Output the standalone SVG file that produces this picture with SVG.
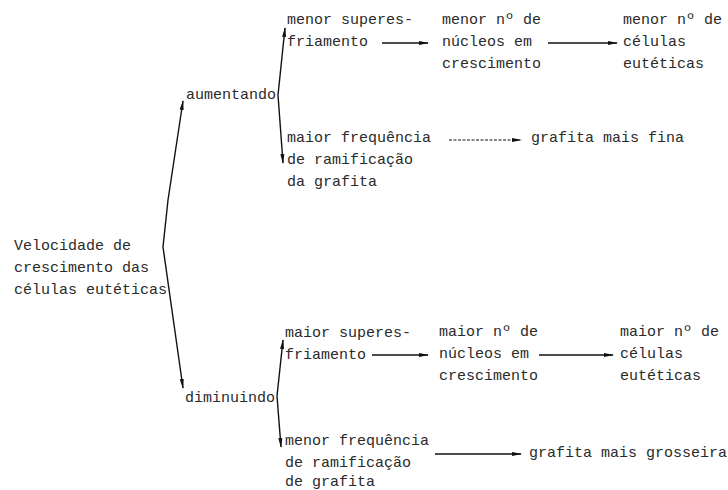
<svg xmlns="http://www.w3.org/2000/svg" width="728" height="490" viewBox="0 0 728 490">
<defs>
<style>
text{font-family:"Liberation Mono","DejaVu Sans Mono",monospace;font-size:15px;fill:#2a2a2a}
.c{stroke:#111;stroke-width:1.4;fill:none}
.d{stroke:#111;stroke-width:1.2;fill:none;stroke-dasharray:3 1.5}
</style>
<marker id="ah" markerWidth="10" markerHeight="6" refX="9" refY="3" orient="auto" markerUnits="userSpaceOnUse">
<path d="M0,1 L10,3 L0,5 Z" fill="#111"/>
</marker>
</defs>
<rect width="728" height="490" fill="#fff"/>
<g id="connectors">
<path class="c" d="M163,247 L168,200 L183,101" marker-end="url(#ah)"/>
<path class="c" d="M163,247 L183,388" marker-end="url(#ah)"/>
<path class="c" d="M278,95 L285,28" marker-end="url(#ah)"/>
<path class="c" d="M278,95 L283,163" marker-end="url(#ah)"/>
<path class="c" d="M277,396 L283,340" marker-end="url(#ah)"/>
<path class="c" d="M277,396 L281,447" marker-end="url(#ah)"/>
<path class="c" d="M382,43 L428,43" marker-end="url(#ah)"/>
<path class="c" d="M548,43 L617,43" marker-end="url(#ah)"/>
<path class="d" d="M449,140 L521,140" marker-end="url(#ah)"/>
<path class="c" d="M372,355 L428,355" marker-end="url(#ah)"/>
<path class="c" d="M539,355 L613,355" marker-end="url(#ah)"/>
<path class="c" d="M435,454 L521,454" marker-end="url(#ah)"/>
</g>
<g id="root"><text x="14" y="250">Velocidade de</text><text x="14" y="272">crescimento das</text><text x="14" y="294">células eutéticas</text></g>
<g id="aumentando"><text x="186" y="99">aumentando</text></g>
<g id="diminuindo"><text x="185" y="402">diminuindo</text></g>
<g id="menor-super"><text x="287" y="24">menor superes-</text><text x="287" y="46">friamento</text></g>
<g id="menor-nucleos"><text x="442" y="24">menor nº de</text><text x="442" y="46">núcleos em</text><text x="442" y="68">crescimento</text></g>
<g id="menor-celulas"><text x="623" y="24">menor nº de</text><text x="623" y="46">células</text><text x="623" y="68">eutéticas</text></g>
<g id="maior-freq"><text x="287" y="142">maior frequência</text><text x="287" y="164">de ramificação</text><text x="287" y="186">da grafita</text></g>
<g id="fina"><text x="531" y="142">grafita mais fina</text></g>
<g id="maior-super"><text x="285" y="337">maior superes-</text><text x="285" y="359">friamento</text></g>
<g id="maior-nucleos"><text x="439" y="336">maior nº de</text><text x="439" y="358">núcleos em</text><text x="439" y="380">crescimento</text></g>
<g id="maior-celulas"><text x="620" y="336">maior nº de</text><text x="620" y="358">células</text><text x="620" y="380">eutéticas</text></g>
<g id="menor-freq"><text x="285" y="445">menor frequência</text><text x="285" y="467">de ramificação</text><text x="285" y="486">de grafita</text></g>
<g id="grosseira"><text x="529" y="457">grafita mais grosseira</text></g>
</svg>
